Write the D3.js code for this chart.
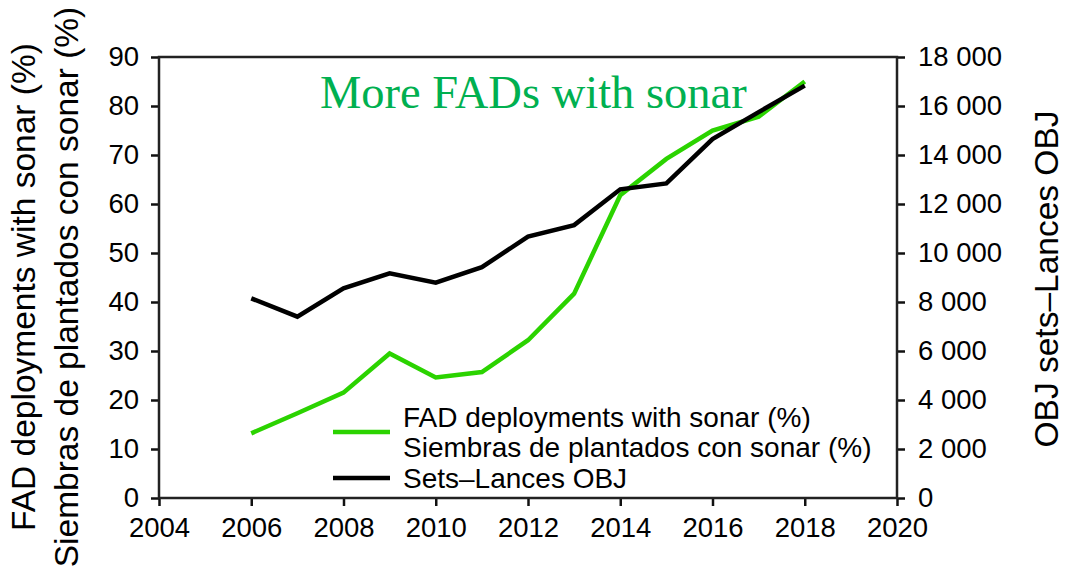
<!DOCTYPE html>
<html>
<head>
<meta charset="utf-8">
<script src="https://cdn.jsdelivr.net/npm/d3@7"></script>
<style>
  body { margin: 0; background: #fff; }
  svg text { font-family: "Liberation Sans", Arial, sans-serif; fill: #000; }
</style>
</head>
<body>
<div id="chart"></div>
<script>
// data
const years = [2006, 2007, 2008, 2009, 2010, 2011, 2012, 2013, 2014, 2015, 2016, 2017, 2018];
const sonarPct = [13.2, 17.3, 21.5, 29.5, 24.6, 25.7, 32.2, 41.7, 61.8, 69.2, 75.0, 77.8, 85.0];
const objSets = [8150, 7400, 8560, 9170, 8790, 9420, 10670, 11140, 12600, 12840, 14650, 15750, 16830];

const xTicks = [2004, 2006, 2008, 2010, 2012, 2014, 2016, 2018, 2020];
const leftTicks = [0, 10, 20, 30, 40, 50, 60, 70, 80, 90];
const rightTicks = [0, 2000, 4000, 6000, 8000, 10000, 12000, 14000, 16000, 18000];

const legendItems = [
  { lines: ["FAD deployments with sonar (%)", "Siembras de plantados con sonar (%)"], color: "#2bd300" },
  { lines: ["Sets\u2013Lances OBJ"], color: "#000" }
];

const width = 1076, height = 570;
const margin = { left: 159, right: 897, top: 57, bottom: 498 };

const svg = d3.select("#chart")
  .append("svg")
  .attr("width", width)
  .attr("height", height);

const x = d3.scaleLinear().domain([2004, 2020]).range([margin.left, margin.right]);
const yL = d3.scaleLinear().domain([0, 90]).range([margin.bottom, margin.top]);
const yR = d3.scaleLinear().domain([0, 18000]).range([margin.bottom, margin.top]);

// space as thousands separator
const fmtR = d => d3.format(",")(d).replace(/,/g, " ");

// x axis
const gx = svg.append("g")
  .attr("transform", `translate(0,${margin.bottom})`)
  .call(d3.axisBottom(x).tickValues(xTicks).tickFormat(d3.format("d")).tickSize(8).tickPadding(10));

// left axis
const gl = svg.append("g")
  .attr("transform", `translate(${margin.left},0)`)
  .call(d3.axisLeft(yL).tickValues(leftTicks).tickSize(8).tickPadding(12));

// right axis
const gr = svg.append("g")
  .attr("transform", `translate(${margin.right},0)`)
  .call(d3.axisRight(yR).tickValues(rightTicks).tickFormat(fmtR).tickSize(8).tickPadding(13));

[gx, gl, gr].forEach(g => {
  g.select(".domain").remove();
  g.selectAll(".tick line").attr("stroke", "#111").attr("stroke-width", 2.5);
  g.selectAll(".tick text").style("font-size", "27.5px").attr("fill", "#000");
});
gx.selectAll(".tick text").attr("dy", "0.75em");

// frame
svg.append("rect")
  .attr("x", margin.left).attr("y", margin.top)
  .attr("width", margin.right - margin.left).attr("height", margin.bottom - margin.top)
  .attr("fill", "none")
  .attr("stroke", "#222")
  .attr("stroke-width", 2.5);

// lines
const greenLine = d3.line()
  .x((d, i) => x(years[i]))
  .y(d => yL(d));
const blackLine = d3.line()
  .x((d, i) => x(years[i]))
  .y(d => yR(d));

svg.append("path")
  .datum(sonarPct)
  .attr("d", greenLine)
  .attr("fill", "none")
  .attr("stroke", "#2bd300")
  .attr("stroke-width", 4.5);

svg.append("path")
  .datum(objSets)
  .attr("d", blackLine)
  .attr("fill", "none")
  .attr("stroke", "#000")
  .attr("stroke-width", 4.5);

// title inside the plot
svg.append("text")
  .attr("x", 320)
  .attr("y", 108)
  .style("font-family", "'Liberation Serif', 'Times New Roman', serif")
  .style("font-size", "46.5px")
  .style("fill", "#00b050")
  .text("More FADs with sonar");

// axis titles
const leftTitle = svg.append("text")
  .attr("transform", "translate(0,287) rotate(-90)")
  .attr("text-anchor", "middle")
  .style("font-size", "33.5px");
leftTitle.append("tspan").attr("x", 0).attr("y", 35).text("FAD deployments with sonar (%)");
leftTitle.append("tspan").attr("x", 0).attr("y", 78).text("Siembras de plantados con sonar (%)");

svg.append("text")
  .attr("transform", "translate(1058,279) rotate(-90)")
  .attr("text-anchor", "middle")
  .style("font-size", "33.5px")
  .text("OBJ sets\u2013Lances OBJ");

// legend
const lg = svg.append("g").attr("transform", "translate(333,0)");
const legendRows = [432, 478];
const rowGap = 30;
legendItems.forEach((item, i) => {
  const cy = legendRows[i];
  lg.append("line")
    .attr("x1", 0).attr("x2", 57)
    .attr("y1", cy).attr("y2", cy)
    .attr("stroke", item.color)
    .attr("stroke-width", 4.5);
  item.lines.forEach((t, j) => {
    lg.append("text")
      .attr("x", 70)
      .attr("y", cy - (item.lines.length - 1) * rowGap / 2 + j * rowGap)
      .attr("dy", "0.35em")
      .style("font-size", "28px")
      .text(t);
  });
});
</script>
</body>
</html>
